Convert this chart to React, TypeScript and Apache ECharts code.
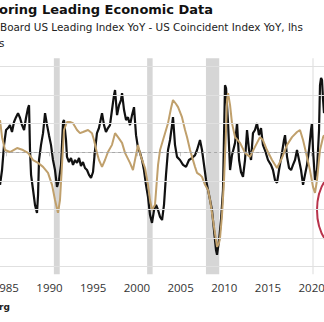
import React, { useEffect, useRef } from "react";
import * as echarts from "echarts";

// Black line: US Leading Index YoY - US Coincident Index YoY (lhs)
const leadYears = [
  1984.34, 1984.57, 1984.8, 1985.03, 1985.26, 1985.48, 1985.71, 1985.94, 1986.17, 1986.4,
  1986.63, 1986.86, 1987.09, 1987.31, 1987.54, 1987.66, 1987.77, 1987.89, 1988.12, 1988.34,
  1988.57, 1988.69, 1988.8, 1989.03, 1989.26, 1989.49, 1989.72, 1989.94, 1990.17, 1990.4,
  1990.63, 1990.86, 1991.09, 1991.32, 1991.55, 1991.66, 1991.89, 1992.0, 1992.23, 1992.46,
  1992.69, 1992.92, 1993.15, 1993.38, 1993.6, 1993.83, 1994.06, 1994.29, 1994.52, 1994.75,
  1994.98, 1995.21, 1995.43, 1995.66, 1996.01, 1996.24, 1996.46, 1996.69, 1996.92, 1997.15,
  1997.38, 1997.5, 1997.73, 1997.96, 1998.18, 1998.3, 1998.53, 1998.76, 1998.98, 1999.21,
  1999.44, 1999.67, 1999.9, 2000.13, 2000.36, 2000.59, 2000.81, 2001.04, 2001.27, 2001.5,
  2001.73, 2001.96, 2002.19, 2002.42, 2002.65, 2002.88, 2003.1, 2003.33, 2003.56, 2003.79,
  2004.02, 2004.13, 2004.36, 2004.59, 2004.93, 2005.28, 2005.62, 2005.96, 2006.31, 2006.65,
  2006.88, 2007.22, 2007.45, 2007.68, 2007.91, 2008.14, 2008.37, 2008.59, 2008.82, 2009.05,
  2009.17, 2009.4, 2009.62, 2009.85, 2010.08, 2010.2, 2010.43, 2010.66, 2010.88, 2011.23,
  2011.46, 2011.69, 2011.91, 2012.14, 2012.37, 2012.6, 2012.83, 2013.06, 2013.28, 2013.51,
  2013.74, 2013.97, 2014.2, 2014.42, 2014.65, 2015.0, 2015.34, 2015.57, 2015.8, 2016.03,
  2016.26, 2016.6, 2016.83, 2016.95, 2017.18, 2017.41, 2017.64, 2017.86, 2018.09, 2018.32,
  2018.55, 2018.78, 2019.01, 2019.23, 2019.46, 2019.69, 2019.92, 2020.03, 2020.15, 2020.38,
  2020.61, 2020.84, 2020.95, 2021.07, 2021.18, 2021.3, 2021.41,
];
const leadValues = [
  -1.14, -0.62, 0.26, 0.78, 0.85, 0.95, 0.71, 1.06, 1.23, 1.37,
  1.2, 0.95, 0.78, 1.2, 1.55, 1.65, 0.08, -0.79, -1.32, -1.84,
  -2.12, -1.49, -0.27, 0.26, 0.67, 1.37, 0.95, 0.6, 0.26, -0.27,
  -0.62, -1.21, -0.97, -0.44, 1.06, 1.13, 0.43, -0.16, -0.34, -0.2,
  -0.44, -0.27, -0.37, -0.2, -0.48, -0.34, -0.55, -0.62, -0.79, -0.9,
  -0.69, 0.08, 0.67, 0.85, 1.37, 0.95, 0.71, 0.85, 0.95, 1.48,
  2.0, 2.18, 1.3, 1.65, 1.83, 2.07, 1.48, 1.13, 1.23, 0.95,
  1.3, 1.58, 0.6, 0.15, -0.02, -0.27, -0.62, -1.14, -1.56, -2.19,
  -2.47, -2.02, -1.84, -2.02, -2.26, -2.37, -1.84, -0.79, 0.08, 0.43,
  0.95, 1.23, 0.26, -0.16, -0.27, -0.44, -0.51, -0.27, -0.2, -0.1,
  0.08, 0.43, 0.08, -0.44, -0.97, -1.32, -1.67, -2.02, -2.72, -3.42,
  -3.59, -3.07, -2.37, -1.32, 2.35, 2.25, 1.02, -0.62, -0.1, 0.33,
  1.02, -0.27, -0.69, -0.86, -0.27, 0.78, 0.08, -0.27, 0.67, 0.78,
  1.02, 0.6, 0.85, 0.26, 0.08, -0.27, -0.44, -0.62, -0.97, -1.07,
  -0.62, -0.02, 0.43, 0.6, -0.16, -0.55, -0.62, -0.44, -0.27, 0.08,
  -0.27, -0.62, -1.14, -0.79, -0.44, 0.08, 0.78, 1.02, 0.08, -0.97,
  -0.62, 0.78, 2.35, 2.6, 2.53, 1.83, 1.37,
];

// Tan line (rhs series) in the same units
const tanYears = [
  1984.34, 1984.57, 1984.91, 1985.48, 1986.29, 1986.97, 1987.54, 1988.12, 1988.69, 1989.26,
  1989.83, 1990.29, 1990.63, 1990.97, 1991.2, 1991.43, 1991.66, 1992.0, 1992.35, 1992.69,
  1993.15, 1993.49, 1993.83, 1994.41, 1994.86, 1995.09, 1995.43, 1995.66, 1996.01, 1996.35,
  1996.69, 1997.15, 1997.5, 1997.84, 1998.3, 1998.64, 1999.21, 1999.55, 1999.9, 2000.13,
  2000.47, 2000.93, 2001.27, 2001.5, 2001.73, 2002.07, 2002.42, 2002.65, 2002.99, 2003.33,
  2003.56, 2003.91, 2004.13, 2004.48, 2004.71, 2005.16, 2005.51, 2005.74, 2006.08, 2006.31,
  2006.65, 2006.88, 2007.22, 2007.45, 2007.8, 2008.14, 2008.37, 2008.71, 2009.05, 2009.17,
  2009.4, 2009.51, 2009.74, 2009.97, 2010.2, 2010.31, 2010.43, 2010.66, 2010.88, 2011.23,
  2011.8, 2012.37, 2012.94, 2013.51, 2014.08, 2014.42, 2014.88, 2015.46, 2016.03, 2016.6,
  2017.18, 2017.75, 2018.32, 2018.66, 2019.01, 2019.46, 2019.8, 2020.15, 2020.38, 2020.61,
  2020.95, 2021.3, 2021.41,
];
const tanValues = [
  1.13, 0.53, 0.08, 0.01, 0.15, 0.08, -0.02, -0.27, -0.37, -0.51,
  -0.72, -1.14, -1.67, -2.12, -1.67, -0.44, 0.78, 1.06, 1.06, 1.02,
  0.78, 0.67, 0.71, 0.78, 0.67, 0.43, -0.02, -0.27, -0.51, -0.27,
  0.01, 0.26, 0.67, 0.53, 0.33, -0.02, -0.37, -0.62, -0.09, 0.26,
  -0.16, -0.55, -1.14, -1.67, -2.02, -1.84, -0.44, 0.08, 0.43, 0.78,
  1.02, 1.55, 1.83, 1.69, 1.58, 1.23, 0.78, 0.53, 0.08, -0.16,
  -0.51, -0.72, -0.79, -0.86, -1.14, -1.32, -1.67, -2.37, -3.07, -3.31,
  -3.17, -3.0, -2.19, -0.97, 0.78, 1.83, 2.07, 1.65, 1.02, 0.53,
  0.33, -0.02, -0.16, 0.19, 0.53, 0.43, 0.08, -0.27, -0.55, -0.2,
  0.26, 0.53, 0.71, 0.78, 0.43, -0.16, -0.62, -1.21, -1.42, -0.97,
  0.08, 0.53, 0.6,
];

// US recessions (shaded)
const recessionStarts = [1990.5, 2001.17, 2007.9, 2020.1];
const recessionEnds = [1991.17, 2001.8, 2009.42, 2020.2];

// Horizontal reference lines (lhs units)
const gridValues = [3, 2, 1, -1, -2, -3, -4];
const zeroValue = 0;

const xTickYears = [1980, 1985, 1990, 1995, 2000, 2005, 2010, 2015, 2020, 2025];

const OFFSET = 50; // div shifted left so the plot is cropped like the reference

export default function App() {
  const ref = useRef<HTMLDivElement>(null);

  useEffect(() => {
    if (!ref.current) return;
    const chart = echarts.init(ref.current, undefined, { renderer: "svg" });

    const leadData = leadYears.map((y, i) => [y, leadValues[i]]);
    const tanData = tanYears.map((y, i) => [y, tanValues[i]]);

    const option: any = {
      animation: false,
      grid: { left: 12.1, right: 14.6, top: 58.3, bottom: 47.7, containLabel: false },
      xAxis: {
        type: "value",
        min: xTickYears[0],
        max: xTickYears[xTickYears.length - 1],
        interval: 5,
        axisLine: { show: true, lineStyle: { color: "#c8c8c8", width: 1 } },
        axisTick: { show: true, length: 4, lineStyle: { color: "#c8c8c8" } },
        splitLine: { show: false },
        axisLabel: {
          margin: 7,
          color: "#333",
          fontSize: 11.5,
          fontFamily: "Open Sans",
          formatter: (v: number) =>
            v === xTickYears[0] || v === xTickYears[xTickYears.length - 1] ? "" : String(v),
        },
      },
      yAxis: {
        type: "value",
        min: -4.27,
        max: 3.29,
        show: false,
        splitLine: { show: false },
      },
      series: [
        {
          type: "line",
          data: [],
          z: 1,
          silent: true,
          markArea: {
            silent: true,
            itemStyle: { color: "#d6d6d6" },
            data: recessionStarts.map((s, i) => [{ xAxis: s }, { xAxis: recessionEnds[i] }]),
          },
          markLine: {
            silent: true,
            symbol: ["none", "none"],
            label: { show: false },
            lineStyle: { color: "#e0e0e0", width: 1, type: "solid" },
            data: [
              ...gridValues.map((v) => ({ yAxis: v })),
              { yAxis: zeroValue, lineStyle: { color: "#a8a8a8", type: [3, 3], width: 1 } },
            ],
          },
        },
        {
          type: "line",
          data: leadData,
          showSymbol: false,
          z: 2,
          lineStyle: { color: "#111111", width: 2.2 },
        },
        {
          type: "line",
          data: tanData,
          showSymbol: false,
          z: 3,
          lineStyle: { color: "#c0a06c", width: 2 },
        },
      ],
      graphic: [
        {
          type: "text",
          x: OFFSET - 1,
          y: 3,
          style: {
            text: "oring Leading Economic Data",
            font: 'bold 13px "DejaVu Sans"',
            fill: "#111",
          },
        },
        {
          type: "text",
          x: OFFSET,
          y: 22,
          style: {
            text: "Board US Leading Index YoY - US Coincident Index YoY, lhs",
            font: '10.4px "DejaVu Sans"',
            fill: "#222",
          },
        },
        {
          type: "text",
          x: OFFSET - 1,
          y: 38,
          style: { text: "s", font: '10.4px "DejaVu Sans"', fill: "#222" },
        },
        {
          type: "text",
          x: OFFSET - 1,
          y: 302,
          style: { text: "rg", font: 'bold 9px "DejaVu Sans"', fill: "#222" },
        },
        {
          type: "ellipse",
          shape: { cx: OFFSET + 345, cy: 210, rx: 28, ry: 42 },
          style: { fill: "none", stroke: "#b8324a", lineWidth: 2 },
        },
      ],
    };

    chart.setOption(option);
    return () => chart.dispose();
  }, []);

  return (
    <div
      ref={ref}
      style={{ position: "fixed", left: -OFFSET, top: 0, width: 324 + 96, height: 322, background: "#fff" }}
    />
  );
}
